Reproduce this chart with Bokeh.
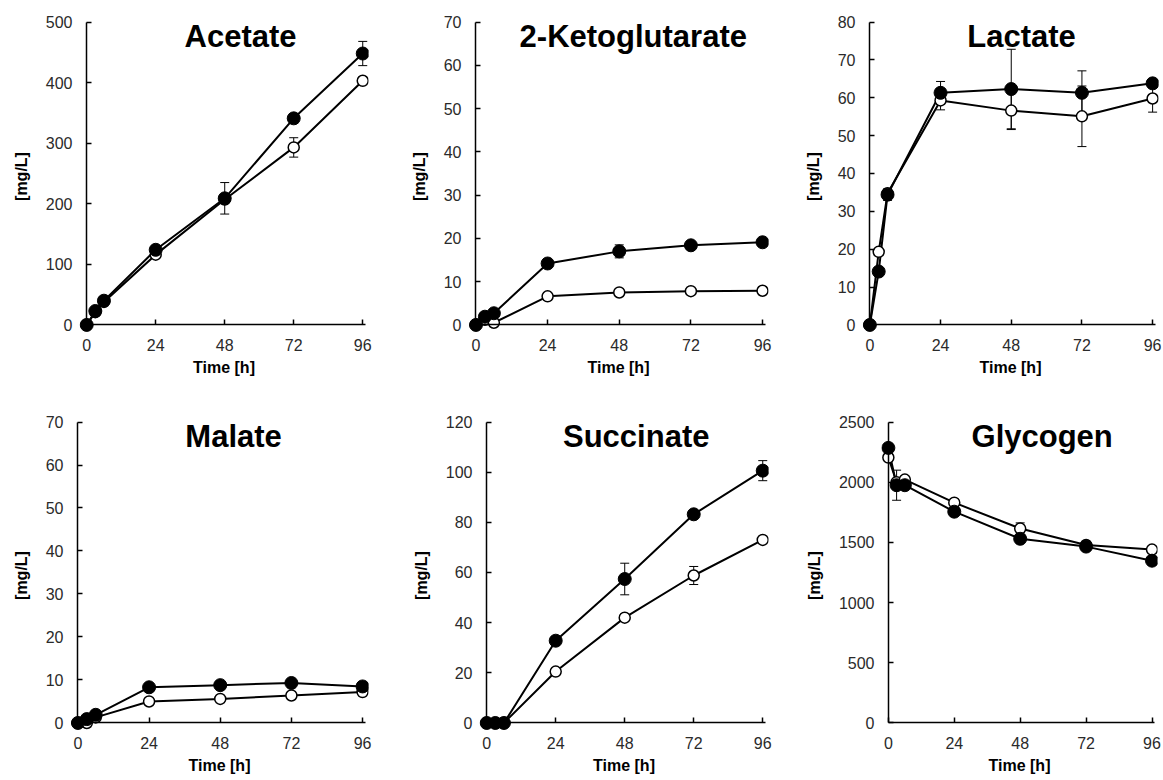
from bokeh.plotting import figure
from bokeh.models import Range1d, FixedTicker, Label, Whisker, ColumnDataSource, TeeHead, LinearAxis
from bokeh.layouts import column, row
from bokeh.embed import file_html
from bokeh.resources import INLINE

FONT = "Liberation Sans"

time_h = [0, 3, 6, 24, 48, 72, 96]
x_ticks = [0, 24, 48, 72, 96]

acetate_filled = [0, 23, 40, 124, 209, 341, 448]
acetate_filled_err = [0, 0, 0, 0, 26, 8, 20]
acetate_open = [0, 21, 38, 116, 207, 293, 403]
acetate_open_err = [0, 0, 0, 0, 0, 16, 0]
acetate_yticks = [0, 100, 200, 300, 400, 500]

akg_filled = [0, 1.9, 2.7, 14.2, 17.0, 18.4, 19.1]
akg_filled_err = [0, 0, 0, 0, 1.5, 0, 0]
akg_open = [0, 1.2, 0.5, 6.6, 7.5, 7.8, 7.9]
akg_open_err = [0, 0, 0, 0, 0, 0, 0]
akg_yticks = [0, 10, 20, 30, 40, 50, 60, 70]

lactate_filled = [0, 14.1, 34.4, 61.3, 62.3, 61.3, 63.8]
lactate_filled_err = [0, 0, 1.5, 3.0, 10.5, 5.8, 0.8]
lactate_open = [0, 19.3, 34.8, 59.3, 56.6, 55.1, 59.8]
lactate_open_err = [0, 0, 0, 2.5, 5.0, 8.0, 3.6]
lactate_yticks = [0, 10, 20, 30, 40, 50, 60, 70, 80]

malate_filled = [0, 0.9, 1.9, 8.3, 8.8, 9.3, 8.5]
malate_filled_err = [0, 0, 0, 0, 0, 0, 0]
malate_open = [0, 0, 1.3, 5.0, 5.6, 6.4, 7.2]
malate_open_err = [0, 0, 0, 0, 0, 0, 0]
malate_yticks = [0, 10, 20, 30, 40, 50, 60, 70]

succinate_filled = [0, 0, 0, 32.8, 57.4, 83.2, 100.6]
succinate_filled_err = [0, 0, 0, 0, 6.3, 0, 4.0]
succinate_open = [0, 0, 0, 20.5, 42.0, 58.8, 73.0]
succinate_open_err = [0, 0, 0, 0, 0, 3.6, 0]
succinate_yticks = [0, 20, 40, 60, 80, 100, 120]

glycogen_filled = [2285, 1975, 1975, 1755, 1530, 1465, 1348]
glycogen_filled_err = [0, 125, 0, 0, 0, 0, 0]
glycogen_open = [2205, 2000, 2022, 1830, 1615, 1478, 1440]
glycogen_open_err = [0, 0, 0, 0, 47, 0, 0]
glycogen_yticks = [0, 500, 1000, 1500, 2000, 2500]

titles = ["Acetate", "2-Ketoglutarate", "Lactate", "Malate", "Succinate", "Glycogen"]


def style_line_axis(ax):
    ax.axis_line_color = "black"
    ax.axis_line_width = 1.5
    ax.major_tick_line_color = "black"
    ax.major_tick_line_width = 1.5
    ax.major_tick_in = 5
    ax.major_tick_out = 0
    ax.minor_tick_line_color = None
    ax.major_label_text_font_size = "1px"
    ax.major_label_text_color = None
    ax.major_label_text_alpha = 0
    ax.major_label_standoff = 0
    ax.axis_label = None


def make_panel(title, filled, filled_err, opn, opn_err, yticks, w, h, bl, br, bt, bb, title_x):
    ymax = yticks[-1]
    p = figure(width=w, height=h,
               x_range=Range1d(-2.5, 98), y_range=Range1d(-0.025 * ymax, 1.005 * ymax),
               output_backend="svg", toolbar_location=None,
               min_border_left=bl, min_border_right=br, min_border_top=bt, min_border_bottom=bb,
               outline_line_color=None, background_fill_color="white", border_fill_color="white")
    p.grid.visible = False

    # label axes at the frame edges (no lines / ticks)
    p.xaxis.ticker = FixedTicker(ticks=x_ticks)
    p.yaxis.ticker = FixedTicker(ticks=yticks)
    for ax in (p.xaxis, p.yaxis):
        ax.axis_line_color = None
        ax.major_tick_line_color = None
        ax.minor_tick_line_color = None
        ax.major_tick_in = 0
        ax.major_tick_out = 0
        ax.major_label_text_font = FONT
        ax.major_label_text_font_size = "16px"
        ax.major_label_text_color = "#2a2a2a"
        ax.axis_label_text_font = FONT
        ax.axis_label_text_font_size = "16px"
        ax.axis_label_text_font_style = "bold"
        ax.axis_label_text_color = "black"
    p.xaxis.axis_label = "Time [h]"
    p.yaxis.axis_label = "[mg/L]"
    p.xaxis.major_label_standoff = 6
    p.xaxis.axis_label_standoff = 5
    p.yaxis.major_label_standoff = 7
    p.yaxis.axis_label_standoff = 13

    # axis lines crossing at the origin, ticks pointing inward
    xline = LinearAxis(fixed_location=0, ticker=FixedTicker(ticks=x_ticks), bounds=(0, 97))
    yline = LinearAxis(fixed_location=0, ticker=FixedTicker(ticks=yticks), bounds=(0, ymax))
    style_line_axis(xline)
    style_line_axis(yline)
    p.add_layout(xline, "below")
    p.add_layout(yline, "left")

    for vals, errs in ((opn, opn_err), (filled, filled_err)):
        xs = [t for t, e in zip(time_h, errs) if e > 0]
        if xs:
            up = [v + e for v, e in zip(vals, errs) if e > 0]
            lo = [v - e for v, e in zip(vals, errs) if e > 0]
            src = ColumnDataSource(dict(x=xs, upper=up, lower=lo))
            wk = Whisker(source=src, base="x", upper="upper", lower="lower", dimension="height",
                         line_color="black", line_width=1, level="underlay",
                         upper_head=TeeHead(size=9, line_width=1, line_color="black"),
                         lower_head=TeeHead(size=9, line_width=1, line_color="black"))
            p.add_layout(wk)

    p.line(time_h, opn, line_color="black", line_width=2)
    p.line(time_h, filled, line_color="black", line_width=2)
    p.scatter(time_h, opn, marker="circle", size=11, fill_color="white", line_color="black", line_width=1.5)
    p.scatter(time_h, filled, marker="circle", size=13, fill_color="black", line_color="black", line_width=1)

    p.add_layout(Label(x=title_x, y=0.953 * ymax, text=title, text_align="center", text_baseline="middle",
                       text_font=FONT, text_font_size="31px", text_font_style="bold", text_color="black"))
    return p


p1 = make_panel(titles[0], acetate_filled, acetate_filled_err, acetate_open, acetate_open_err, acetate_yticks,
                395, 382, 79, 27, 20, 50, 53.5)
p2 = make_panel(titles[1], akg_filled, akg_filled_err, akg_open, akg_open_err, akg_yticks,
                395, 382, 73, 22, 20, 50, 52.7)
p3 = make_panel(titles[2], lactate_filled, lactate_filled_err, lactate_open, lactate_open_err, lactate_yticks,
                373, 382, 72, 5, 20, 50, 51.5)
p4 = make_panel(titles[3], malate_filled, malate_filled_err, malate_open, malate_open_err, malate_yticks,
                395, 398, 70, 27, 38, 50, 52.5)
p5 = make_panel(titles[4], succinate_filled, succinate_filled_err, succinate_open, succinate_open_err, succinate_yticks,
                395, 398, 84, 22, 38, 50, 52)
p6 = make_panel(titles[5], glycogen_filled, glycogen_filled_err, glycogen_open, glycogen_open_err, glycogen_yticks,
                373, 398, 91, 6, 38, 50, 56)

layout = column(row(p1, p2, p3), row(p4, p5, p6))
open("out.html", "w").write(file_html(layout, INLINE))
